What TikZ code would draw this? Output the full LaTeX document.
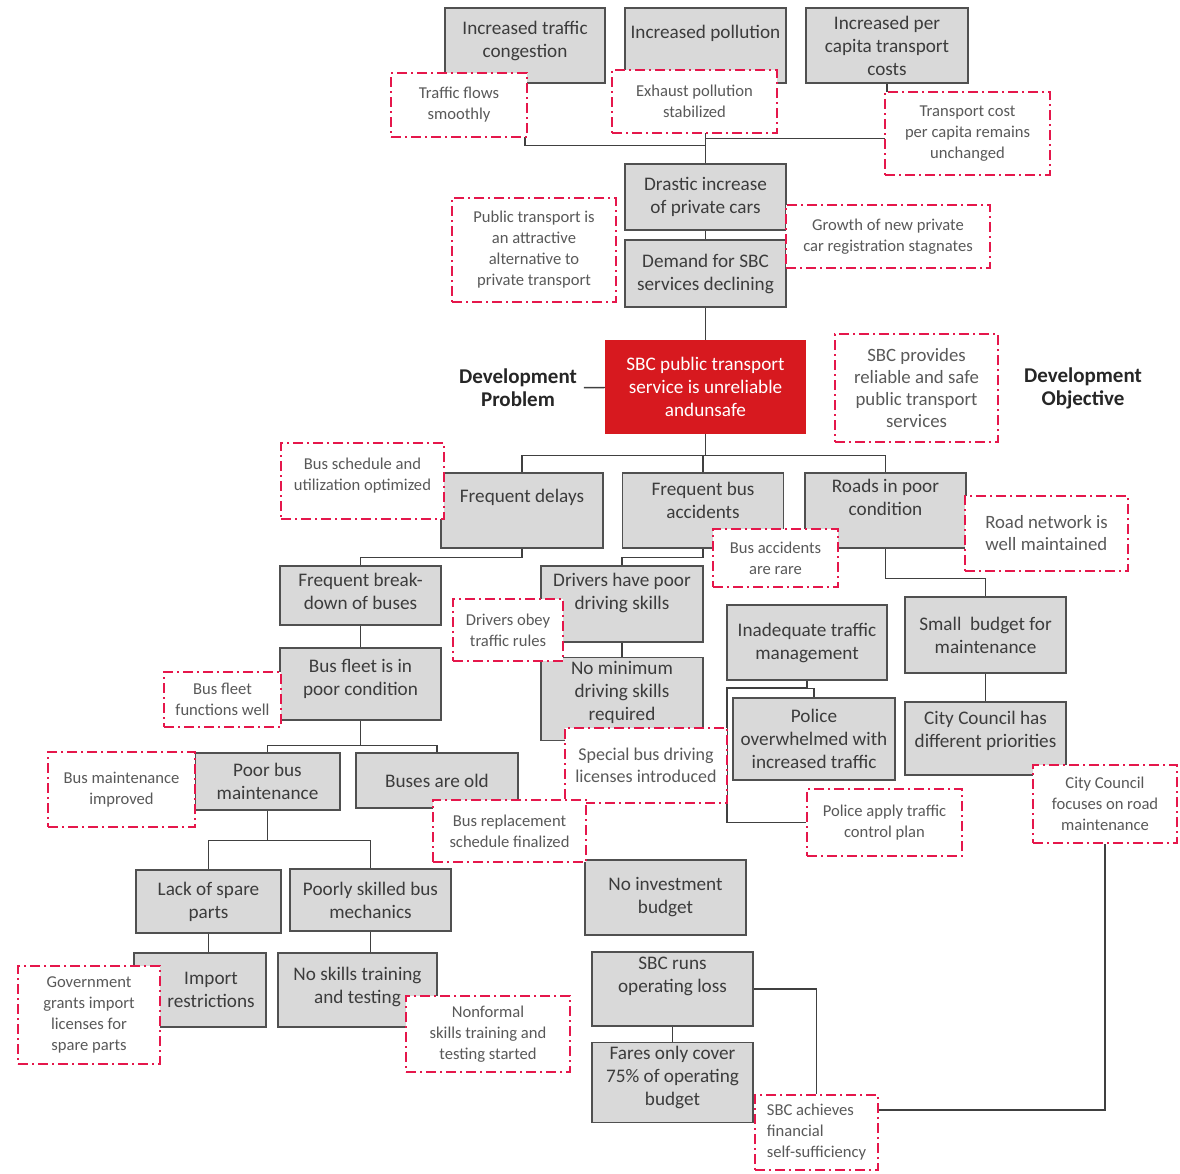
\documentclass[tikz,border=0pt]{standalone}
\usepackage{fontspec}
\setmainfont{Carlito}

\pgfdeclarelayer{bg}
\pgfsetlayers{bg,main}

\definecolor{boxgrey}{HTML}{D9D9D9}
\definecolor{edgegrey}{HTML}{505050}
\definecolor{sbcred}{HTML}{D7191F}
\definecolor{dashred}{HTML}{E5174B}
\definecolor{txtgrey}{HTML}{3C3C3C}

\tikzset{
    problem/.style 2 args={draw=edgegrey, fill=boxgrey, line width=0.7pt, align=center,
        text=txtgrey, font=\fontsize{9.6}{11.5}\selectfont, inner sep=2pt,
        minimum width=#1*0.5pt, minimum height=#2*0.5pt},
    core/.style 2 args={problem={#1}{#2}, draw=sbcred, fill=sbcred, text=white},
    objective/.style 2 args={draw=dashred, fill=white, line width=1.2pt,
        dash pattern=on 5pt off 2pt on 1pt off 2pt, align=center,
        text=txtgrey!85, font=\fontsize{8.3}{10.5}\selectfont, inner sep=2pt,
        minimum width=#1*0.5pt, minimum height=#2*0.5pt},
    heading/.style={align=center, text=black!85, font=\bfseries\fontsize{10.5}{11.5}\selectfont},
    link/.style={draw=black!75, line width=0.7pt}
}

\begin{document}
\begin{tikzpicture}[x=0.5pt, y=-0.5pt]
    \useasboundingbox (0,0) rectangle (1180,1174);

    \node[problem={160}{75}, text depth=6pt] (traffic) at (525,45.5) {Increased traffic\\congestion};
    \node[problem={161}{75}, text depth=13.5pt] (pollution) at (705.5,45.5) {Increased pollution};
    \node[problem={162}{75}] (percapita) at (887,45.5) {Increased per\\capita transport\\costs};
    \node[problem={161}{66}] (drastic) at (705.5,197) {Drastic increase\\of private cars};
    \node[problem={161}{67}] (demand) at (705.5,273.5) {Demand for SBC\\services declining};
    \node[core={199}{92}] (sbc) at (705.5,387) {SBC public transport\\service is unreliable\\andunsafe};

    \node[problem={162}{75}, text depth=14.5pt] (delays) at (522,510.5) {Frequent delays};
    \node[problem={161}{75}, text depth=10pt] (busacc) at (703,510.5) {Frequent bus\\accidents};
    \node[problem={161}{75}, text depth=13.5pt] (roads) at (885.5,510.5) {Roads in poor\\condition};
    \node[problem={161}{59}, text depth=4.5pt] (breakdown) at (360.5,595.5) {Frequent break-\\down of buses};
    \node[problem={162}{76}, text depth=13pt] (drivers) at (622,604) {Drivers have poor\\driving skills};
    \node[problem={160}{75}] (inadequate) at (807,642.5) {Inadequate traffic\\management};
    \node[problem={161}{76}] (smallbudget) at (985.5,635) {Small\ \ budget for\\maintenance};
    \node[problem={161}{72}, text depth=7pt] (fleet) at (360.5,684) {Bus fleet is in\\poor condition};
    \node[problem={162}{76}, text depth=8pt] (nominimum) at (622,699) {No minimum\\driving skills\\required};
    \node[problem={162}{82}] (police) at (814,739) {Police\\overwhelmed with\\increased traffic};
    \node[problem={161}{73}, text depth=9.5pt] (citycouncil) at (985.5,738.5) {City Council has\\different priorities};
    \node[problem={145}{57}] (poormaint) at (267.5,781.5) {Poor bus\\maintenance};
    \node[problem={162}{55}] (old) at (437,780.5) {Buses are old};
    \node[problem={161}{75}] (noinvest) at (665.5,897.5) {No investment\\budget};
    \node[problem={145}{63}] (spare) at (208.5,901.5) {Lack of spare\\parts};
    \node[problem={161}{62}] (mechanics) at (370.5,900) {Poorly skilled bus\\mechanics};
    \node[problem={132}{74}] (import) at (200,990) {\hspace*{11pt}Import\\\hspace*{11pt}restrictions};
    \node[problem={159}{74}, text depth=5pt] (notraining) at (357.5,990) {No skills training\\and testing};
    \node[problem={161}{74}, text depth=14pt] (oploss) at (672.5,989) {SBC runs\\operating loss};
    \node[problem={161}{75}, text depth=6.5pt] (fares) at (672.5,1082.5) {Fares only cover\\75\% of operating\\budget};

    \node[objective={136}{64}] (flows) at (459,105) {Traffic flows\\smoothly};
    \node[objective={165}{63}] (exhaust) at (694.5,101.5) {Exhaust pollution\\stabilized};
    \node[objective={165}{83}] (costpc) at (967.5,133.5) {Transport cost\\per capita remains\\unchanged};
    \node[objective={164}{104}] (attractive) at (534,250) {Public transport is\\an attractive\\alternative to\\private transport};
    \node[objective={204}{63}] (growth) at (888,236.5) {Growth of new private\\car registration stagnates};
    \node[objective={163}{108}, font=\fontsize{9.4}{11}\selectfont] (reliable) at (916.5,388) {SBC provides\\reliable and safe\\public transport\\services};
    \node[objective={163}{76}, text depth=7pt] (schedule) at (362.5,481) {Bus schedule and\\utilization optimized};
    \node[objective={125}{58}] (rare) at (775.5,558) {Bus accidents\\are rare};
    \node[objective={163}{75}, align=left, font=\fontsize{9.4}{11}\selectfont] (roadnet) at (1046.5,533.5) {Road network is\\well maintained};
    \node[objective={110}{62}] (obey) at (508,630) {Drivers obey\\traffic rules};
    \node[objective={117}{55}] (fleetok) at (222.5,699.5) {Bus fleet\\functions well};
    \node[objective={147}{75}] (maintok) at (121.5,789.5) {Bus maintenance\\improved};
    \node[objective={162}{75}, font=\fontsize{9}{11}\selectfont] (special) at (646,765.5) {Special bus driving\\licenses introduced};
    \node[objective={153}{62}] (replacement) at (509.5,831) {Bus replacement\\schedule finalized};
    \node[objective={155}{67}] (trafficplan) at (884.5,822.5) {Police apply traffic\\control plan};
    \node[objective={144}{78}] (focuses) at (1105,804) {City Council\\focuses on road\\maintenance};
    \node[objective={142}{98}] (govlicense) at (89,1015) {Government\\grants import\\licenses for\\spare parts};
    \node[objective={164}{76}] (nonformal) at (488,1034) {Nonformal\\skills training and\\testing started};
    \node[objective={123}{75}, align=left] (selfsuff) at (816.5,1132.5) {SBC achieves\\financial\\self-sufficiency};

    \node[heading] (devproblem) at (518,388) {Development\\Problem};
    \node[heading] (devobjective) at (1083,388) {Development\\Objective};

    \coordinate (policebend) at (727,688);

    \begin{pgfonlayer}{bg}
        \fill[white] (0,0) rectangle (1180,1174);
        \draw[link] (traffic.south) -- ++(0,62) -| (drastic.north);
        \draw[link] (pollution.south) -- (drastic.north);
        \draw[link] (percapita.south) -- ++(0,55) -| (drastic.north);
        \draw[link] (drastic) -- (demand);
        \draw[link] (demand) -- (sbc);
        \draw[link] (devproblem) -- (sbc);
        \draw[link] (sbc.south) -- ++(0,22) -| (delays.north);
        \draw[link] (sbc.south) -- ++(0,22) -| (busacc.north);
        \draw[link] (sbc.south) -- ++(0,22) -| (roads.north);
        \draw[link] (delays.south) -- ++(0,9) -| (breakdown.north);
        \draw[link] (busacc.south) -- ++(0,9) -| (drivers.north);
        \draw[link] (roads.south) -- ++(0,30) -| (smallbudget.north);
        \draw[link] (breakdown) -- (fleet);
        \draw[link] (drivers) -- (nominimum);
        \draw[link] (smallbudget) -- (citycouncil);
        \draw[link] (inadequate.south) -- ++(0,8) -| (police.north);
        \draw[link] (inadequate.south) |- (policebend) |- (trafficplan.west);
        \draw[link] (fleet.south) -- ++(0,25) -| (poormaint.north);
        \draw[link] (fleet.south) -- ++(0,25) -| (old.north);
        \draw[link] (poormaint.south) -- ++(0,30) -| (spare.north);
        \draw[link] (poormaint.south) -- ++(0,30) -| (mechanics.north);
        \draw[link] (spare.south) -- (spare.south |- import.north);
        \draw[link] (mechanics.south) -- (mechanics.south |- notraining.north);
        \draw[link] (oploss) -- (fares);
        \draw[link] (oploss.east) -| (selfsuff.north);
        \draw[link] (focuses.south) |- ([yshift=11.25pt]selfsuff.east);
    \end{pgfonlayer}
\end{tikzpicture}
\end{document}
